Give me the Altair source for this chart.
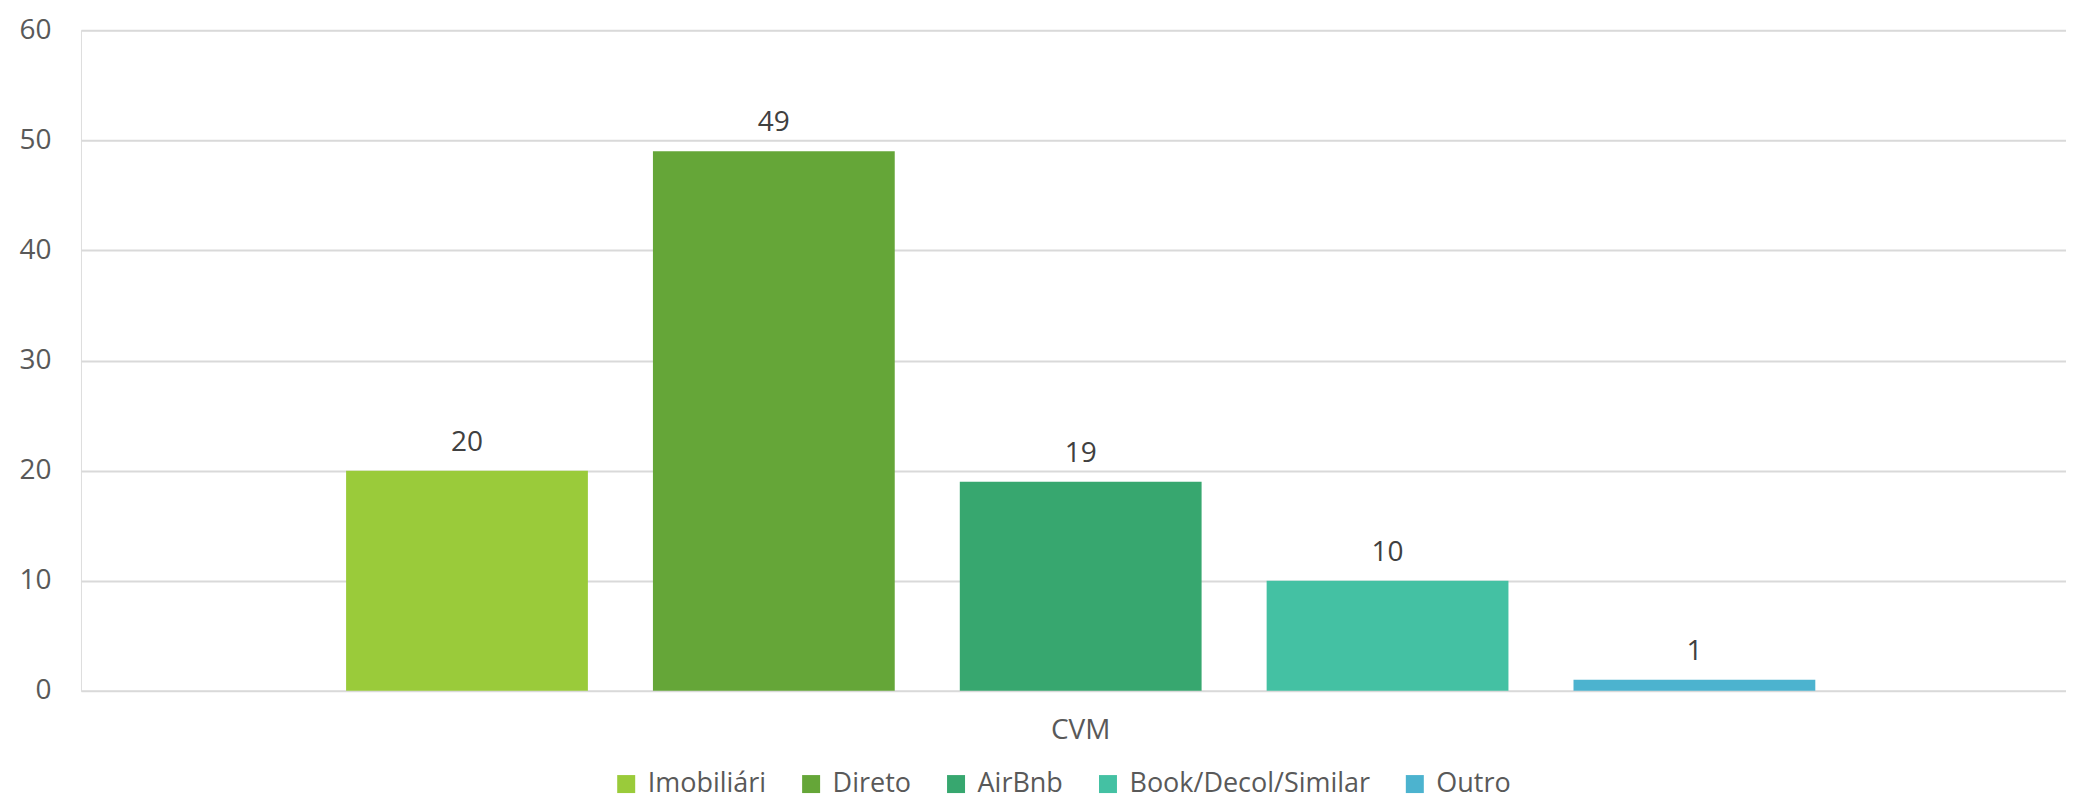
import altair as alt
import pandas as pd

categories = ["CVM"] * 5
series = ["Imobiliári", "Direto", "AirBnb", "Book/Decol/Similar", "Outro"]
values = [20, 49, 19, 10, 1]
colors = ["#9ACB3A", "#65A638", "#37A76F", "#44C1A3", "#4CB3CF"]
y_ticks = [0, 10, 20, 30, 40, 50, 60]

df = pd.DataFrame({"cat": categories, "series": series, "value": values})

W = 1986
H = 661
FONT = "Open Sans"
FS = 28

x_enc = alt.X(
    "cat:N",
    title=None,
    scale=alt.Scale(paddingInner=0, paddingOuter=0.1469, align=0.516),
    axis=alt.Axis(
        labelAngle=0, ticks=False, domain=False, labelFont=FONT,
        labelFontSize=FS, labelColor="#595959", labelPadding=26,
    ),
)
xoff_enc = alt.XOffset(
    "series:N", sort=series,
    scale=alt.Scale(paddingInner=0.212, paddingOuter=0.106),
)
y_enc = alt.Y(
    "value:Q",
    title=None,
    scale=alt.Scale(domain=[0, 60], nice=False),
    axis=alt.Axis(
        values=y_ticks, ticks=False, domain=False, labelFont=FONT,
        labelFontSize=FS, labelColor="#595959", labelPadding=30,
        gridColor="#D9D9D9", gridWidth=2,
    ),
)
color_enc = alt.Color(
    "series:N",
    sort=series,
    scale=alt.Scale(domain=series, range=colors),
    legend=alt.Legend(
        title=None, orient="none", direction="horizontal",
        legendX=532, legendY=740.5, padding=0,
        labelFont=FONT, labelFontSize=27, labelColor="#595959", labelLimit=0,
        symbolType="square", symbolSize=324,
        symbolStrokeWidth=0, labelOffset=8, columnPadding=31,
    ),
)

bars = alt.Chart(df).mark_bar().encode(x=x_enc, xOffset=xoff_enc, y=y_enc, color=color_enc)
labels = alt.Chart(df).mark_text(
    dy=-20, baseline="alphabetic", font=FONT, fontSize=FS, color="#404040"
).encode(x=x_enc, xOffset=xoff_enc, y=y_enc, text="value:Q")

chart = (
    alt.layer(bars, labels)
    .properties(width=W, height=H, padding={"left": 10, "top": 8, "right": 0, "bottom": 3})
    .configure_view(stroke=None)
    .configure(background="white")
)

chart.save("out.html", embed_options={"renderer": "svg", "actions": False})
